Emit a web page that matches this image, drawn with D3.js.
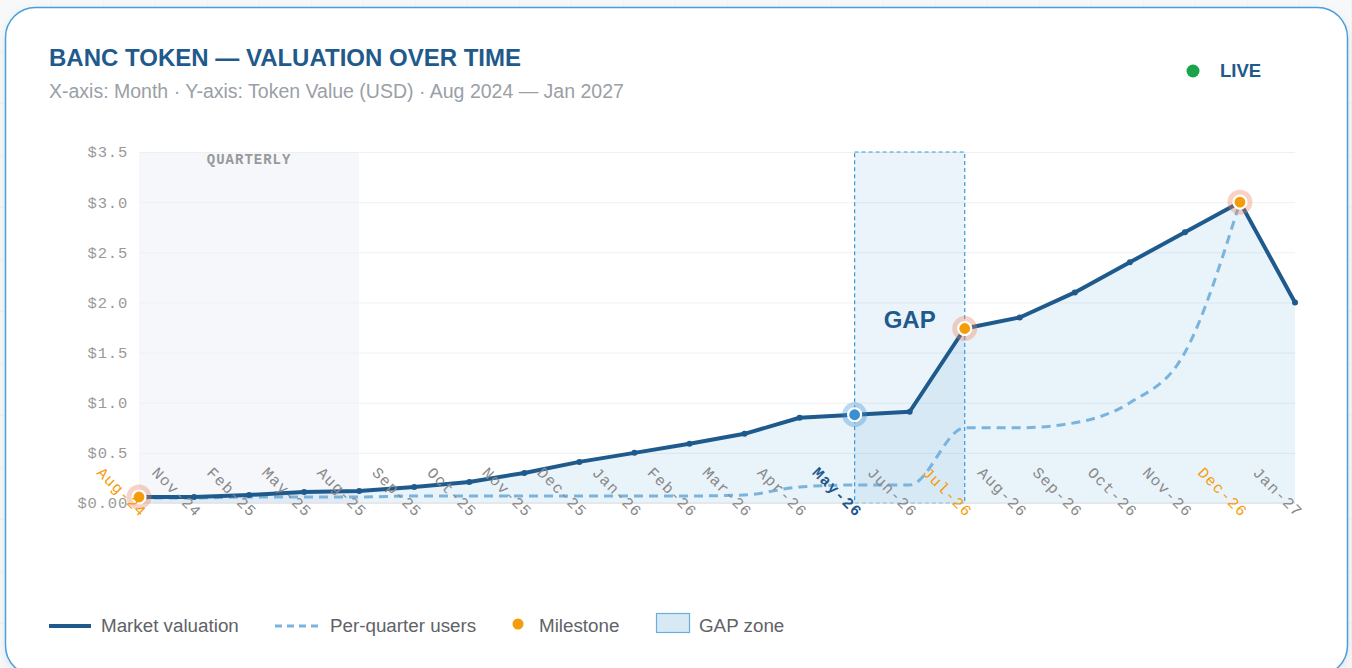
<!DOCTYPE html>
<html>
<head>
<meta charset="utf-8">
<script src="https://cdn.jsdelivr.net/npm/d3@7"></script>
<style>
  html, body { margin: 0; padding: 0; background: #f6f8fa; }
  svg { display: block; }
</style>
</head>
<body>
<div class="container"></div>
<script>
// ---- data ----
const months = ["Aug-24","Nov-24","Feb-25","May-25","Aug-25","Sep-25","Oct-25","Nov-25","Dec-25",
  "Jan-26","Feb-26","Mar-26","Apr-26","May-26","Jun-26","Jul-26","Aug-26","Sep-26","Oct-26",
  "Nov-26","Dec-26","Jan-27"];
const valuation = [0.06,0.06,0.08,0.11,0.12,0.16,0.21,0.30,0.41,0.50,0.59,0.69,0.85,0.88,0.91,
  1.74,1.85,2.10,2.40,2.70,3.00,2.00];
const users = [0.05,0.05,0.06,0.06,0.06,0.07,0.07,0.07,0.07,0.07,0.07,0.08,0.16,0.18,0.18,
  0.75,0.75,0.80,1.00,1.50,3.00,null];
const milestones = ["Aug-24","Jul-26","Dec-26"];
const current = "May-26";
const quarterly = ["Aug-24","Aug-25"];
const gapZone = ["May-26","Jul-26"];
const yTicks = [0,0.5,1,1.5,2,2.5,3,3.5];
const yTickLabels = ["$0.00","$0.5","$1.0","$1.5","$2.0","$2.5","$3.0","$3.5"];

const W = 1352, H = 668;
const dark = "#1f5a8c", light = "#7ab4dc", orange = "#f59c0a", mono = "'Courier New','Liberation Mono',monospace";
const sans = "Arial,'Liberation Sans',sans-serif";

const svg = d3.select(".container").append("svg").attr("width", W).attr("height", H);
const defs = svg.append("defs");

// background grid
const pat = defs.append("pattern").attr("id","bg").attr("width",52).attr("height",52)
  .attr("patternUnits","userSpaceOnUse");
pat.append("path").attr("d","M52 0V52M0 52H52").attr("stroke","#e9eef3").attr("fill","none");
svg.append("rect").attr("width",W).attr("height",H).attr("fill","url(#bg)");

const sh = defs.append("filter").attr("id","sh").attr("x","-5%").attr("y","-5%").attr("width","110%").attr("height","115%");
sh.append("feDropShadow").attr("dx",0).attr("dy",3).attr("stdDeviation",4).attr("flood-color","#000").attr("flood-opacity",0.08);

// card
svg.append("rect").attr("x",5.5).attr("y",7.5).attr("width",1342).attr("height",668)
  .attr("rx",30).attr("fill","#fff").attr("stroke","#4a9edb").attr("stroke-width",1.5)
  .attr("filter","url(#sh)");

// title
svg.append("text").attr("x",49).attr("y",66).text("BANC TOKEN — VALUATION OVER TIME")
  .attr("font-family",sans).attr("font-weight","bold").attr("font-size",24).attr("fill",dark);
svg.append("text").attr("x",49).attr("y",98)
  .text("X-axis: Month · Y-axis: Token Value (USD) · Aug 2024 — Jan 2027")
  .attr("font-family",sans).attr("font-size",19.5).attr("fill","#9aa0a6");
svg.append("circle").attr("cx",1193).attr("cy",71).attr("r",6.5).attr("fill","#1aa34a");
svg.append("text").attr("x",1220).attr("y",77).text("LIVE")
  .attr("font-family",sans).attr("font-weight","bold").attr("font-size",18.5).attr("fill",dark);

// scales
const x = d3.scalePoint().domain(months).range([139,1295]);
const y = d3.scaleLinear().domain([0,3.5]).range([503,152]);
const g = svg.append("g");

// quarterly band
g.append("rect").attr("x",x(quarterly[0])).attr("y",y(3.5))
  .attr("width",x(quarterly[1])-x(quarterly[0])).attr("height",y(0)-y(3.5)).attr("fill","#f5f7fb");
g.append("text").attr("x",(x(quarterly[0])+x(quarterly[1]))/2).attr("y",164).attr("text-anchor","middle")
  .text("QUARTERLY").attr("font-family",mono).attr("font-weight","bold").attr("font-size",14)
  .attr("letter-spacing",1).attr("fill","#999");

// grid
const grid = g.append("g").attr("transform","translate(139,0)")
  .call(d3.axisLeft(y).tickValues(yTicks).tickSize(-(1295-139)).tickFormat(""));
grid.select(".domain").remove();
grid.selectAll("line").attr("stroke","#eef0f3");

// area
g.append("path").datum(valuation)
  .attr("d", d3.area().x((d,i)=>x(months[i])).y0(y(0)).y1(d=>y(d)))
  .attr("fill","rgba(58,143,208,0.11)");

// gap zone
g.append("rect").attr("x",x(gapZone[0])).attr("y",y(3.5))
  .attr("width",x(gapZone[1])-x(gapZone[0])).attr("height",y(0)-y(3.5))
  .attr("fill","rgba(58,143,208,0.10)").attr("stroke","#3a9ad9").attr("stroke-width",1.2)
  .attr("stroke-dasharray","4,3");
g.append("text").attr("x",(x(gapZone[0])+x(gapZone[1]))/2).attr("y",328).attr("text-anchor","middle")
  .text("GAP").attr("font-family",sans).attr("font-weight","bold").attr("font-size",24).attr("fill",dark);

// baseline
g.append("line").attr("x1",139).attr("x2",1295).attr("y1",y(0)).attr("y2",y(0)).attr("stroke","#dcdfe3");

// users dashed
g.append("path").datum(users)
  .attr("d", d3.line().defined(d=>d!=null).x((d,i)=>x(months[i])).y(d=>y(d)).curve(d3.curveMonotoneX))
  .attr("fill","none").attr("stroke",light).attr("stroke-width",3).attr("stroke-dasharray","9,6");

// valuation line
g.append("path").datum(valuation)
  .attr("d", d3.line().x((d,i)=>x(months[i])).y(d=>y(d)))
  .attr("fill","none").attr("stroke",dark).attr("stroke-width",4).attr("stroke-linejoin","round");
g.selectAll(".pt").data(valuation).enter().append("circle")
  .attr("cx",(d,i)=>x(months[i])).attr("cy",d=>y(d)).attr("r",3).attr("fill",dark);

// markers
const mk = valuation.map((v,i)=>({m:months[i],v})).filter(d=>milestones.includes(d.m)||d.m===current);
mk.forEach(d=>{
  const isM = milestones.includes(d.m);
  g.append("circle").attr("cx",x(d.m)).attr("cy",y(d.v)).attr("r",12.5)
    .attr("fill", isM ? "rgba(235,130,90,0.35)" : "rgba(58,143,208,0.35)");
  g.append("circle").attr("cx",x(d.m)).attr("cy",y(d.v)).attr("r",6.5)
    .attr("fill", isM ? orange : "#3a8fd0").attr("stroke","#fff").attr("stroke-width",2.2);
});

// y axis
const ya = g.append("g").attr("transform","translate(128,0)")
  .call(d3.axisLeft(y).tickValues(yTicks).tickSize(0).tickPadding(0).tickFormat((d,i)=>yTickLabels[i]));
ya.select(".domain").remove();
ya.selectAll("text").attr("font-family",mono).attr("font-size",15.5).attr("letter-spacing",0.8)
  .attr("fill","#999").attr("dy","0.32em");

// x axis
const xa = g.append("g").attr("transform","translate(0,503)")
  .call(d3.axisBottom(x).tickSize(0).tickPadding(0));
xa.select(".domain").remove();
xa.selectAll("text")
  .attr("text-anchor","end").attr("y",0).attr("dy",0)
  .attr("transform",d=>"translate(1,15) rotate(45)")
  .attr("font-family",mono).attr("font-size",15.5).attr("letter-spacing",1.2)
  .attr("fill",d=>d===current?dark:milestones.includes(d)?orange:"#888")
  .attr("font-weight",d=>d===current?"bold":"normal");

// legend
const lg = svg.append("g").attr("font-family",sans).attr("font-size",18.8).attr("fill","#5f6368");
lg.append("line").attr("x1",49).attr("x2",91).attr("y1",626).attr("y2",626).attr("stroke",dark).attr("stroke-width",4);
lg.append("text").attr("x",101).attr("y",632).text("Market valuation");
lg.append("line").attr("x1",275).attr("x2",318).attr("y1",626).attr("y2",626).attr("stroke",light)
  .attr("stroke-width",3).attr("stroke-dasharray","7,5");
lg.append("text").attr("x",330).attr("y",632).text("Per-quarter users");
lg.append("circle").attr("cx",518).attr("cy",624).attr("r",5.5).attr("fill",orange);
lg.append("text").attr("x",539).attr("y",632).text("Milestone");
lg.append("rect").attr("x",656.5).attr("y",613.5).attr("width",33).attr("height",19)
  .attr("fill","#d8e9f6").attr("stroke","#6aaee0").attr("stroke-width",1.2);
lg.append("text").attr("x",699).attr("y",632).text("GAP zone");
</script>
</body>
</html>
